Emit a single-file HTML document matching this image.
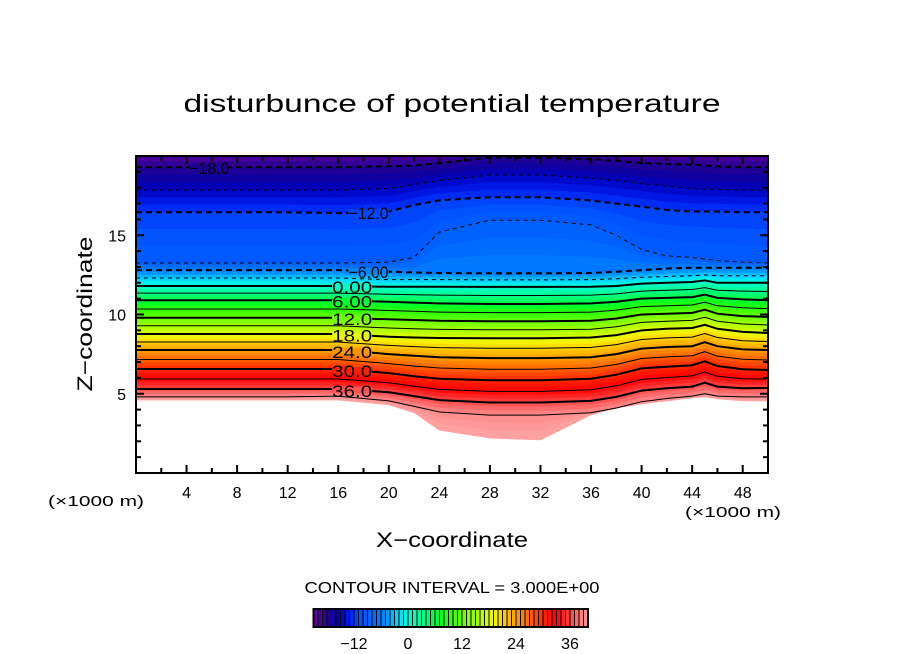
<!DOCTYPE html>
<html><head><meta charset="utf-8">
<style>
html,body{margin:0;padding:0;background:#fff;}
svg{display:block;font-family:"Liberation Sans","DejaVu Sans",sans-serif;}
</style></head>
<body>
<svg id="chart" width="904" height="654" viewBox="0 0 904 654" xmlns="http://www.w3.org/2000/svg">
<text x="452" y="112" font-size="25" text-anchor="middle" textLength="537" lengthAdjust="spacingAndGlyphs">disturbunce of potential temperature</text>
<g id="fills"></g>
<g id="lines"></g>
<g id="labels"></g>
<g id="axes"></g>
<text x="96" y="506" font-size="15" text-anchor="middle" textLength="96" lengthAdjust="spacingAndGlyphs">(×1000 m)</text>
<text x="733" y="517" font-size="15" text-anchor="middle" textLength="96" lengthAdjust="spacingAndGlyphs">(×1000 m)</text>
<text x="452" y="547" font-size="21" text-anchor="middle" textLength="152" lengthAdjust="spacingAndGlyphs">X−coordinate</text>
<text transform="translate(92,314) rotate(-90)" font-size="21" text-anchor="middle" textLength="155" lengthAdjust="spacingAndGlyphs">Z−coordinate</text>
<text x="452" y="593" font-size="16" text-anchor="middle" textLength="295" lengthAdjust="spacingAndGlyphs">CONTOUR INTERVAL = 3.000E+00</text>
<g id="cbar"></g>
</svg>
<script>
// ---- data ----
const xs = [0,4,8,12,16,20,22,24,28,32,36,38,40,42,44,45,46,48,50];
const keyLevels = [-21,-18,-15,-12,-9,-6,-3,0,6,12,18,24,30,36,39,42];
const zTop   = [20.4,20.4,20.4,20.4,20.4,20.4,20.4,20.4,20.4,20.4,20.4,20.4,20.4,20.4,20.4,20.4,20.4,20.4,20.4];
const zM18 = [19.3,19.3,19.3,19.3,19.3,19.35,19.4,19.55,19.9,19.9,19.8,19.7,19.55,19.5,19.45,19.4,19.35,19.3,19.3];
const zM15 = [17.85,17.85,17.85,17.85,17.85,17.95,18.2,18.45,18.8,18.8,18.6,18.45,18.25,18.1,17.95,17.9,17.9,17.85,17.85];
const zM12 = [16.45,16.45,16.45,16.45,16.4,16.5,16.9,17.2,17.4,17.4,17.2,17.0,16.8,16.6,16.5,16.5,16.5,16.45,16.45];
const zM9  = [13.25,13.25,13.25,13.25,13.25,13.3,13.6,15.2,15.95,15.95,15.65,15.0,14.1,13.7,13.6,13.5,13.4,13.3,13.25];
const zM6  = [12.8,12.8,12.8,12.8,12.8,12.7,12.65,12.62,12.6,12.6,12.62,12.7,12.8,12.9,12.95,12.95,12.95,12.95,12.95];
const zM3  = [12.3,12.3,12.3,12.3,12.3,12.2,12.2,12.2,12.18,12.18,12.2,12.25,12.35,12.4,12.45,12.5,12.45,12.45,12.45];
const zP0  = [11.8,11.8,11.8,11.8,11.8,11.75,11.75,11.75,11.74,11.74,11.75,11.8,11.95,12.0,12.05,12.15,12.0,12.0,12.0];
const zP6  = [10.9,10.9,10.9,10.9,10.9,10.8,10.75,10.7,10.66,10.66,10.7,10.8,11.0,11.05,11.1,11.25,11.05,10.95,10.9];
const zP12 = [9.8,9.8,9.8,9.8,9.8,9.7,9.65,9.6,9.58,9.58,9.6,9.75,10.0,10.05,10.1,10.3,10.05,9.9,9.85];
const zP18 = [8.77,8.77,8.77,8.77,8.77,8.6,8.55,8.52,8.5,8.5,8.55,8.7,9.0,9.1,9.15,9.35,9.1,8.9,8.83];
const zP24 = [7.76,7.76,7.76,7.76,7.76,7.5,7.4,7.3,7.25,7.25,7.3,7.5,7.85,7.95,8.0,8.25,8.0,7.8,7.76];
const zP30 = [6.56,6.56,6.56,6.56,6.56,6.3,6.1,5.95,5.85,5.85,5.95,6.2,6.6,6.7,6.8,7.05,6.75,6.55,6.5];
const zP36 = [5.3,5.3,5.3,5.3,5.3,5.1,4.85,4.6,4.45,4.45,4.55,4.8,5.2,5.35,5.45,5.7,5.45,5.35,5.36];
const zP39 = [4.8,4.8,4.8,4.8,4.85,4.55,4.2,3.85,3.65,3.65,3.8,4.1,4.5,4.7,4.85,5.0,4.85,4.8,4.8];
const zBottom = [4.6,4.6,4.6,4.6,4.6,4.3,3.8,2.7,2.2,2.08,3.66,4.1,4.35,4.54,4.73,4.8,4.67,4.54,4.54];
const xTicks = [4,8,12,16,20,24,28,32,36,40,44,48];
const yTicks = [5,10,15];
const cbarTicks = [-12,0,12,24,36];
const labelLevels = ["-18.0","-12.0","-6.00","0.00","6.00","12.0","18.0","24.0","30.0","36.0"];
const labelValues = [-18,-12,-6,0,6,12,18,24,30,36];
const labelX = [5.8,18.4,18.4,17.1,17.1,17.1,17.1,17.1,17.1,17.1];

// ---- scales ----
const X0=136,X1=768,Y0=156,Y1=473;
const sx = x => X0 + (x-0)/50*(X1-X0);
const sy = z => Y1 - z/20*(Y1-Y0);
const keyCurves = [zTop,zM18,zM15,zM12,zM9,zM6,zM3,zP0,zP6,zP12,zP18,zP24,zP30,zP36,zP39,zBottom];
function curve(v){
  let i=0; while(i<keyLevels.length-2 && keyLevels[i+1]<v) i++;
  const a=keyLevels[i], b=keyLevels[i+1], t=Math.max(0,Math.min(1,(v-a)/(b-a)));
  return xs.map((_,k)=>keyCurves[i][k]*(1-t)+keyCurves[i+1][k]*t);
}
const stops=[[-21,[110,0,168]],[-19,[60,0,150]],[-17,[20,0,150]],[-15,[0,0,190]],[-13,[0,30,240]],[-11,[0,80,255]],[-8,[0,100,255]],[-5,[0,140,255]],[-3,[0,200,255]],[-1,[0,240,240]],[1,[0,255,190]],[4,[0,255,120]],[7,[0,255,40]],[10,[60,255,0]],[13,[120,255,0]],[16,[180,255,0]],[19,[240,250,0]],[21,[255,210,0]],[24,[255,160,0]],[27,[255,100,0]],[30,[255,40,0]],[33,[255,0,0]],[36,[255,70,70]],[39,[255,140,140]],[42,[255,165,165]]];
function color(v){
  if(v<=stops[0][0]) return 'rgb('+stops[0][1]+')';
  for(let i=0;i<stops.length-1;i++){
    if(v<=stops[i+1][0]){const t=(v-stops[i][0])/(stops[i+1][0]-stops[i][0]);
      const c=stops[i][1].map((a,j)=>Math.round(a+(stops[i+1][1][j]-a)*t));return 'rgb('+c+')';}
  }
  return 'rgb('+stops[stops.length-1][1]+')';
}
const NS='http://www.w3.org/2000/svg';
function mk(tag,attrs,parent){const e=document.createElementNS(NS,tag);for(const k in attrs)e.setAttribute(k,attrs[k]);parent.appendChild(e);return e;}
const clamp=z=>Math.max(0,Math.min(20,z));
const fills=document.getElementById('fills');
for(let v=-21; v<42; v++){
  const top=curve(v), bot=curve(v+1);
  const pts=xs.map((x,k)=>sx(x).toFixed(1)+','+sy(clamp(top[k])).toFixed(1))
   .concat(xs.slice().reverse().map((x,k)=>{const kk=xs.length-1-k;return sx(x).toFixed(1)+','+sy(clamp(bot[kk])).toFixed(1);}));
  const p=mk('polygon',{points:pts.join(' '),fill:color(v+0.5),stroke:color(v+0.5),'stroke-width':0.6},fills);
  
  
}
const lines=document.getElementById('lines');
for(let v=-18; v<=39; v+=3){
  const c=curve(v);
  const pts=xs.map((x,k)=>sx(x).toFixed(1)+','+sy(clamp(c[k])).toFixed(1)).join(' ');
  const major=(v%6===0);
  const a={points:pts,fill:'none',stroke:'#000','stroke-width':major?2:1};
  if(v<0) a['stroke-dasharray']=major?'6,4':'4,4';
  const l=mk('polyline',a,lines);
  
  
}
const labels=document.getElementById('labels');
labelLevels.forEach((txt,i)=>{
  const c=curve(labelValues[i]);
  let k=0; while(k<xs.length-2 && xs[k+1]<labelX[i]) k++;
  const t=(labelX[i]-xs[k])/(xs[k+1]-xs[k]);
  const z=c[k]*(1-t)+c[k+1]*t;
  const r=mk('rect',{x:sx(labelX[i])-20,y:sy(z)-3,width:40,height:6,fill:color(labelValues[i]+0.5)},labels);
  
  
  const e=mk('text',{x:sx(labelX[i]),y:sy(z)+7,'font-size':17,'text-anchor':'middle',textLength:40,lengthAdjust:'spacingAndGlyphs',fill:'#000'},labels);
  e.textContent=txt.replace('-','−');
  
  
});
const axes=document.getElementById('axes');
const fr=mk('rect',{x:X0,y:Y0,width:X1-X0,height:Y1-Y0,fill:'none',stroke:'#000','stroke-width':2},axes);


for(let x=2;x<50;x+=2){
  const L=(x%4===0)?8:5;
  const t1=mk('line',{x1:sx(x),x2:sx(x),y1:Y1,y2:Y1-L,stroke:'#000','stroke-width':2},axes);
  
  
  const t2=mk('line',{x1:sx(x),x2:sx(x),y1:Y0,y2:Y0+L,stroke:'#000','stroke-width':2},axes);
  
  
}
for(let z=1;z<20;z++){
  const L=(z%5===0)?8:5;
  const t1=mk('line',{x1:X0,x2:X0+L,y1:sy(z),y2:sy(z),stroke:'#000','stroke-width':2},axes);
  
  
  const t2=mk('line',{x1:X1,x2:X1-L,y1:sy(z),y2:sy(z),stroke:'#000','stroke-width':2},axes);
  
  
}
xTicks.forEach(x=>{const e=mk('text',{x:sx(x),y:498,'font-size':16,'text-anchor':'middle'},axes);e.textContent=x;
  
  });
yTicks.forEach(z=>{const e=mk('text',{x:126,y:sy(z)+6,'font-size':16,'text-anchor':'end'},axes);e.textContent=z;
  
  });
// colorbar
const cb=document.getElementById('cbar');
const C0=408, CU=4.5, CY=609, CH=18;
const cx=v=>C0+v*CU;
for(let v=-21; v<40; v++){
  const r=mk('rect',{x:cx(v),y:CY,width:CU,height:CH,fill:color(v+0.5)},cb);
  
  
  const s=mk('line',{x1:cx(v),x2:cx(v),y1:CY,y2:CY+CH,stroke:'#000','stroke-width':1},cb);
  
  
}
const cf=mk('rect',{x:cx(-21),y:CY,width:61*CU,height:CH,fill:'none',stroke:'#000','stroke-width':2},cb);


cbarTicks.forEach(v=>{const e=mk('text',{x:cx(v),y:649,'font-size':16,'text-anchor':'middle'},cb);e.textContent=String(v).replace('-','−');
  
  });
</script>
</body></html>
